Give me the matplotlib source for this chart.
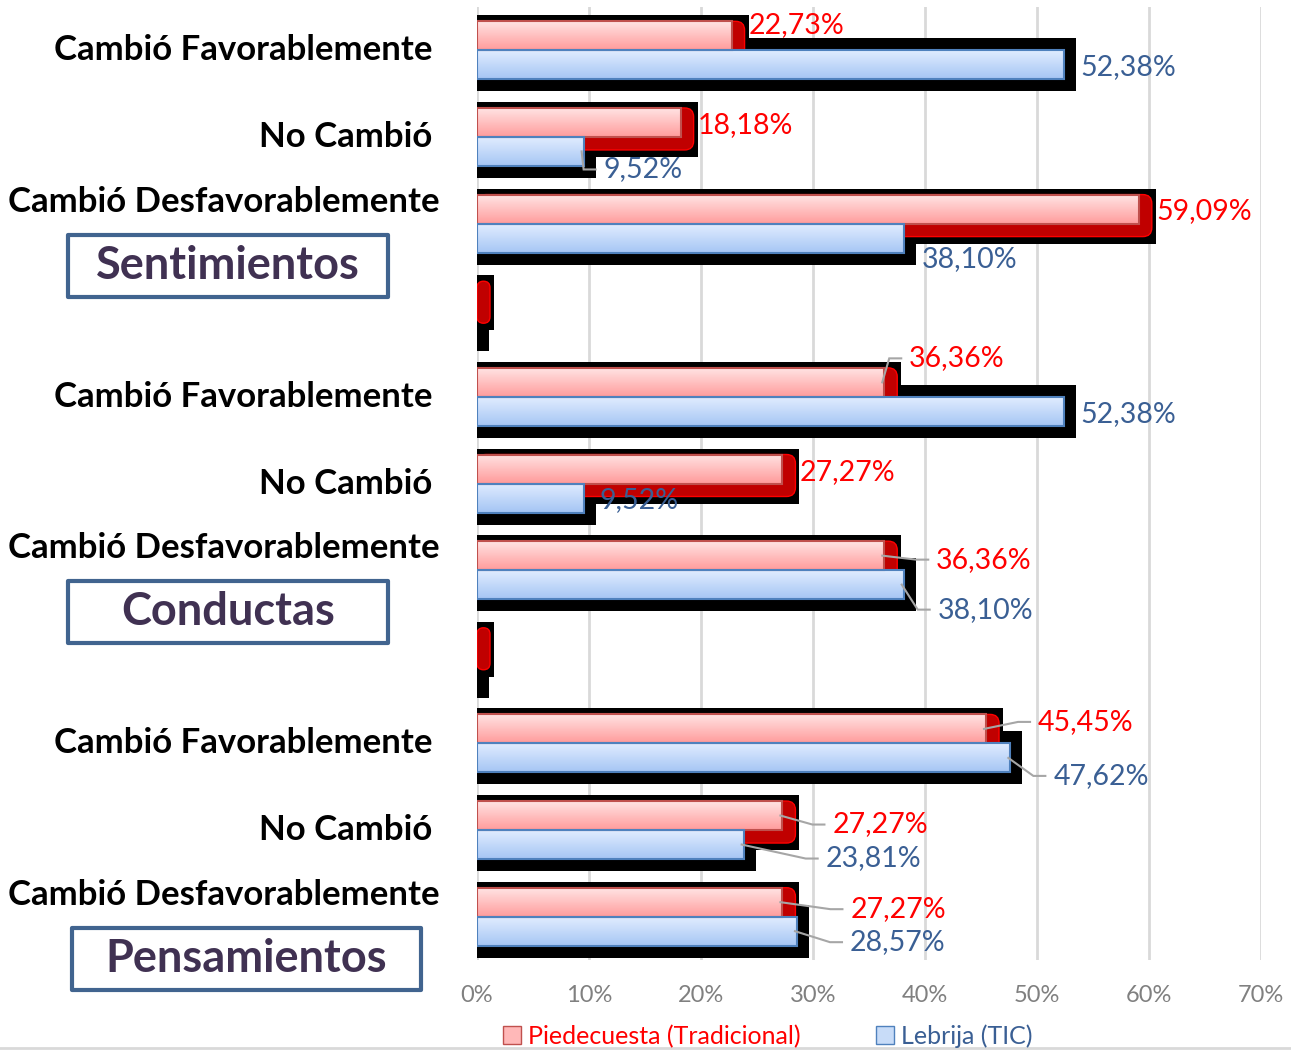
#!/usr/bin/env python3
# -*- coding: utf-8 -*-
"""
Barras horizontales Piedecuesta vs Lebrija (estilo Excel con sombra y relieve)
"""

import numpy as np
import matplotlib.pyplot as plt
from matplotlib.patches import Rectangle, FancyBboxPatch, Patch
from matplotlib.colors import LinearSegmentedColormap
from matplotlib.lines import Line2D

plt.rcParams['font.family'] = ['Lato', 'DejaVu Sans']

# ---- datos ----
grupos = ['Sentimientos', 'Conductas', 'Pensamientos']
categorias = ['Cambió Favorablemente', 'No Cambió', 'Cambió Desfavorablemente', '',
              'Cambió Favorablemente', 'No Cambió', 'Cambió Desfavorablemente', '',
              'Cambió Favorablemente', 'No Cambió', 'Cambió Desfavorablemente']
piedecuesta = [22.73, 18.18, 59.09, 0, 36.36, 27.27, 36.36, 0, 45.45, 27.27, 27.27]
lebrija = [52.38, 9.52, 38.10, 0, 52.38, 9.52, 38.10, 0, 47.62, 23.81, 28.57]
serie_names = ['Piedecuesta (Tradicional)', 'Lebrija (TIC)']
xticks = [0, 10, 20, 30, 40, 50, 60, 70]

# desplazamiento de etiquetas (px) respecto al final de la barra, y si llevan línea guía
red_off = [(17, -11), (17, 3), (18, 2), None, (25, -24), (17, 3), (52, 4), None, (52, -7), (50, 9), (68, 7)]
blue_off = [(17, 2), (20, 18), (18, 21), None, (17, 3), (16, 2), (34, 25), None, (43, 18), (82, 14), (53, 11)]
red_leader = [0, 0, 0, 0, 1, 0, 1, 0, 1, 1, 1]
blue_leader = [0, 1, 0, 0, 0, 0, 1, 0, 1, 1, 1]

# ---- geometría (pixeles) ----
W, H, DPI = 1291, 1050, 100
AX_L, AX_R, AX_T, AX_B = 477, 1261, 7, 960
n = len(categorias)
PXX = (AX_R - AX_L) / 70.0
PXY = (AX_B - AX_T) / n
h = 29 / PXY


def dx(p):
    return p / PXX


def dy(p):
    return p / PXY


def axfrac(px):
    return (px - AX_L) / (AX_R - AX_L)


RED = '#FF0000'
BLUE_TXT = '#3A5F94'

fig = plt.figure(figsize=(W / DPI, H / DPI), dpi=DPI)
ax = fig.add_axes([AX_L / W, 1 - AX_B / H, (AX_R - AX_L) / W, (AX_B - AX_T) / H])

y = np.arange(n)

# sombras negras y relieve rojo
for i, (r, b) in enumerate(zip(piedecuesta, lebrija)):
    ax.add_patch(Rectangle((0, i - dy(12)), b + dx(12), h + dy(24), fc='black', ec='none', zorder=1))
    ax.add_patch(Rectangle((0, i - h - dy(6)), r + dx(17), h + dy(26), fc='black', ec='none', zorder=1.1))
    ew = r + dx(13)
    ax.add_patch(FancyBboxPatch((0, i - h), ew, h + dy(13),
                                boxstyle=f'round,pad=0,rounding_size={min(0.8, ew / 2)}',
                                mutation_aspect=PXX / PXY,
                                fc='#C00000', ec='#FF0000', lw=1, zorder=2))

# barras con degradado
cm_red = LinearSegmentedColormap.from_list('r', ['#FFE3E3', '#FF9C9C'])
cm_blue = LinearSegmentedColormap.from_list('b', ['#E0ECFF', '#A6C6F4'])
grad = np.linspace(0, 1, 64).reshape(-1, 1)

rb = ax.barh(y - h / 2, piedecuesta, height=h, fc='none', ec='#C0504D', lw=1.5, zorder=3.2)
bb = ax.barh(y + h / 2, lebrija, height=h, fc='none', ec='#4F81BD', lw=1.5, zorder=3.2)
for bars, cm in ((rb, cm_red), (bb, cm_blue)):
    for bar in bars:
        w = bar.get_width()
        if w <= 0:
            bar.set_linewidth(0)
            continue
        y0 = bar.get_y()
        ax.imshow(grad, extent=(0, w, y0 + bar.get_height(), y0), origin='upper',
                  cmap=cm, aspect='auto', zorder=3, interpolation='bilinear')

# etiquetas de datos
for vals, offs, leads, color, sign in ((piedecuesta, red_off, red_leader, RED, -1),
                                       (lebrija, blue_off, blue_leader, BLUE_TXT, 1)):
    for i, v in enumerate(vals):
        if offs[i] is None:
            continue
        c = i + sign * h / 2
        lx = v + dx(offs[i][0])
        ly = c + dy(offs[i][1])
        ax.text(lx, ly, f'{v:.2f}'.replace('.', ',') + '%', color=color,
                fontsize=20.5, ha='left', va='center', zorder=6)
        if leads[i]:
            ax.plot([v - dx(2), lx - dx(20), lx - dx(8)], [c, ly, ly],
                    color='#A6A6A6', lw=1.5, zorder=5, solid_joinstyle='miter')

# etiquetas de categorías
cat_pos = {'Cambió Favorablemente': (432, 0), 'No Cambió': (432, 0),
           'Cambió Desfavorablemente': (440, -22)}
ytrans = ax.get_yaxis_transform()
for i, cat in enumerate(categorias):
    if not cat:
        continue
    px, off = cat_pos[cat]
    ax.text(axfrac(px), i + dy(off), cat, transform=ytrans, ha='right', va='center',
            fontsize=25, fontweight='bold', color='black', clip_on=False)

# recuadros de grupo
box_x = [(68, 388), (68, 388), (72, 421)]
for g, name in enumerate(grupos):
    base = 4 * g + 2
    x0, x1 = box_x[g]
    ax.add_patch(Rectangle((axfrac(x0), base + dy(11)), axfrac(x1) - axfrac(x0), dy(62),
                           transform=ytrans, fc='white', ec='#41648F', lw=3,
                           joinstyle='round', clip_on=False, zorder=5))
    ax.text(axfrac((x0 + x1) / 2), base + dy(42), name, transform=ytrans,
            ha='center', va='center', fontsize=32.5, fontweight='bold',
            color='#403152', clip_on=False, zorder=6)

# ejes
ax.set_xlim(0, 70)
ax.set_ylim(n - 0.5, -0.5)
ax.set_xticks(xticks)
ax.set_xticklabels([f'{t}%' for t in xticks])
ax.set_yticks([])
ax.tick_params(axis='x', length=0, pad=18, labelcolor='#808080', labelsize=17)
ax.grid(True, axis='x', color='#D9D9D9', lw=2)
ax.set_axisbelow(True)
for s in ax.spines.values():
    s.set_visible(False)

# leyenda
handles = [Patch(fc='#FFB8B8', ec='#C0504D'), Patch(fc='#C8DCF8', ec='#4F81BD')]
leg = fig.legend(handles, serie_names, loc='center', bbox_to_anchor=(768 / W, 1 - 1036 / H),
                 ncol=2, frameon=False, fontsize=18, handlelength=0.7, handleheight=0.7,
                 handletextpad=0.3, columnspacing=3.0)
for t, c in zip(leg.get_texts(), [RED, BLUE_TXT]):
    t.set_color(c)

fig.add_artist(Line2D([0, 1], [1 - 1048 / H] * 2, color='#D9D9D9', lw=2, transform=fig.transFigure))

fig.savefig('out.png', dpi=DPI)
